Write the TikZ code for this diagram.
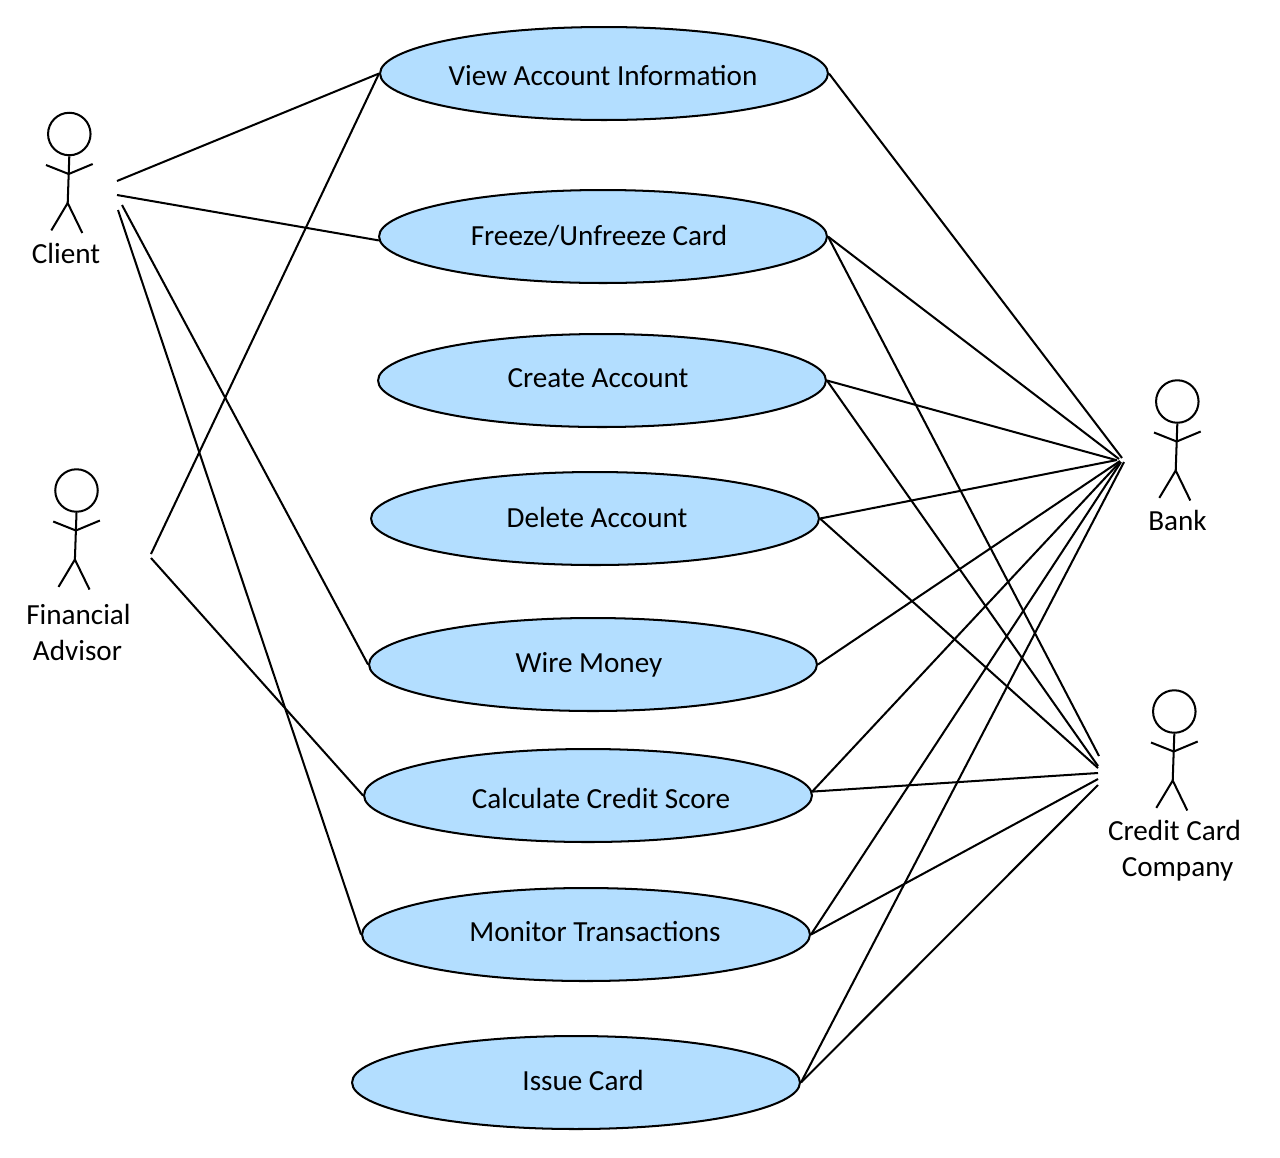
\documentclass[tikz,border=0pt]{standalone}
\usepackage{fontspec}
\setmainfont{Carlito}
\usetikzlibrary{shapes.geometric}
\definecolor{ucblue}{HTML}{B3DEFF}

\begin{document}
\begin{tikzpicture}[x=0.02cm, y=-0.02cm, line width=1.15pt, every node/.style={font=\fontsize{16.6}{20}\selectfont, text height=10.5pt, text depth=0pt},
	uc/.style={draw, ellipse, fill=ucblue, minimum width=8.96cm, minimum height=1.86cm, inner sep=0pt},
	head/.style={draw, circle, minimum size=0.85cm, inner sep=0pt}]
	\useasboundingbox (0,0) rectangle (1280,1157);
	% use cases
	\foreach \n/\cx/\cy/\tx/\ty/\t in {view/604/73.5/603/76.5/View Account Information, freeze/603/236.5/599/236.5/Freeze\slash Unfreeze Card, create/602/380.5/598/378.5/Create Account, delete/595/518.5/597/518.5/Delete Account, wire/593/664.5/589/663.5/Wire Money, calc/588/795.5/601/799.5/Calculate Credit Score, monitor/586/934.5/595/932.5/Monitor Transactions, issue/576/1082.5/583/1081.5/Issue Card}
		{\node[uc] (\n) at (\cx,\cy) {}; \node (\n-t) at (\tx,\ty) {\t};}
	% actors
	\foreach \n/\x/\y in {client/69.3/134, advisor/76.5/490.5, bank/1177.3/401.5, company/1174.3/711.5}
		{\node[head] (\n) at (\x,\y) {};
		\begin{scope}[shift={(\x,\y)}]
			\draw (\n.south) -- (-1.6,69);
			\draw (-23.3,31) -- (-0.6,40) -- (23.4,30);
			\draw (-18,96.4) -- (-1.6,69) -- (13,99);
		\end{scope}}
	\node (client-t) at (66,254.5) {Client};
	\node (advisor-t1) at (78.5,615.5) {Financial};
	\node (advisor-t2) at (77.5,651.5) {Advisor};
	\node (bank-t) at (1177.5,521.5) {Bank};
	\node (company-t1) at (1174.5,831.5) {Credit Card};
	\node (company-t2) at (1177.5,867.5) {Company};
	% free ends
	\foreach \n/\x/\y in {c1/117/181, c2/117/195, c3/122/205, c4/118/210, a1/151/554, a2/151/558, b1/1122/458, b2/1119/459, b3/1116/460, b4/1117/460, b5/1120/461, b6/1120/462, b7/1121/462, b8/1124/462, k1/1099/756, k2/1098/766, k3/1098/768, k4/1098/773, k5/1098/779, k6/1098/785}
		{\coordinate (\n) at (\x,\y);}
	\foreach \a/\b in {c1/view.west, c2/freeze.181, c3/wire.west, c4/monitor.west, a1/view.west, a2/calc.west,
		view.east/b1, freeze.east/b2, create.0.5/b3, delete.east/b4, wire.east/b5, calc.1/b6, monitor.0.5/b7, issue.east/b8,
		freeze.east/k1, create.east/k2, delete.east/k3, calc.1/k4, monitor.east/k5, issue.east/k6}
		{\draw (\a) -- (\b);}
\end{tikzpicture}
\end{document}
